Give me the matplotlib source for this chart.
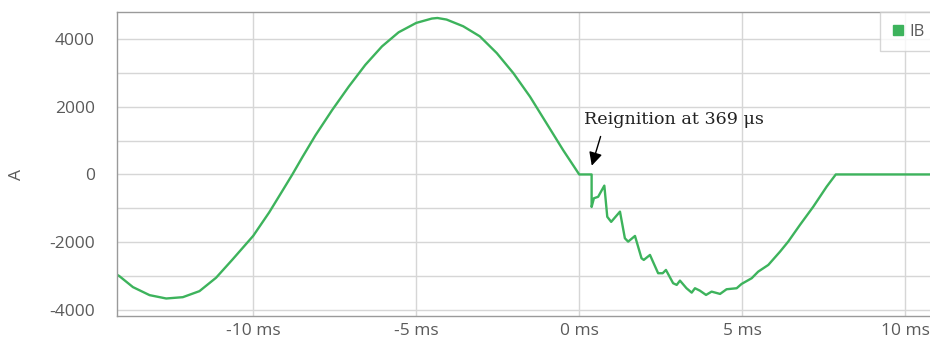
import matplotlib
matplotlib.use("Agg")
import matplotlib.pyplot as plt
from matplotlib.lines import Line2D
from matplotlib.ticker import MultipleLocator, FuncFormatter

# Current IB (A) versus time (ms)
time_ms = [
    -14.17, -14.11, -13.69, -13.18, -12.67, -12.16, -11.65, -11.14, -10.63,
    -10.0, -9.51, -9.10, -8.80, -8.49, -8.09, -7.58, -7.07, -6.56, -6.05,
    -5.54, -5.0, -4.52, -4.35, -4.07, -3.56, -3.05, -2.53, -2.02, -1.51,
    -1.00, -0.49, 0.0, 0.38, 0.38, 0.45, 0.58, 0.77, 0.86, 0.98, 1.25,
    1.40, 1.50, 1.71, 1.91, 1.98, 2.17, 2.42, 2.56, 2.66, 2.88, 2.99, 3.09,
    3.29, 3.45, 3.55, 3.70, 3.89, 4.06, 4.32, 4.52, 4.83, 4.98, 5.29, 5.49,
    5.80, 6.16, 6.41, 6.77, 7.18, 7.59, 7.87, 10.8,
]
current_a = [
    -2967, -3000, -3327, -3564, -3663, -3624, -3446, -3050, -2505,
    -1812, -1119, -475, 0, 515, 1158, 1901, 2594, 3238, 3782,
    4198, 4475, 4604, 4620, 4574, 4376, 4079, 3584, 2990, 2297,
    1505, 713, 0, 0, -960, -703, -660, -330, -1250, -1400, -1098,
    -1884, -1984, -1816, -2474, -2524, -2377, -2917, -2917, -2820, -3212, -3262, -3135,
    -3360, -3490, -3360, -3431, -3558, -3460, -3528, -3390, -3360, -3233, -3065, -2870,
    -2672, -2279, -1984, -1491, -951, -360, 0, 0,
]

series_name = "IB"
note_text = "Reignition at 369 \u03bcs"
note_tip = (0.36, 180)
note_tail = (0.68, 1200)
note_pos = (0.15, 1630)

line_color = "#3db35c"
text_color = "#5a5a5a"
grid_color = "#d6d6d6"

fig = plt.figure(figsize=(9.3, 3.46), dpi=100)
ax = fig.add_axes([117.3 / 930, 1 - 316 / 346, 1 - 117.3 / 930, (316 - 11.7) / 346])

ax.plot(time_ms, current_a, color=line_color, lw=1.7, solid_joinstyle="round")

ax.set_xlim(-14.17, 10.76)
ax.set_ylim(-4180, 4806)

# Axis ticks and grid
ax.xaxis.set_major_locator(MultipleLocator(5))
ax.yaxis.set_major_locator(MultipleLocator(2000))
ax.yaxis.set_minor_locator(MultipleLocator(1000))
ax.xaxis.set_major_formatter(FuncFormatter(lambda v, p: "%d ms" % round(v)))
ax.yaxis.set_major_formatter(FuncFormatter(lambda v, p: "%d" % round(v)))

ax.grid(True, which="both", color=grid_color, lw=1.0)
ax.set_axisbelow(True)
ax.tick_params(axis="both", which="both", length=0, colors=text_color, labelsize=12.5)
ax.tick_params(axis="y", pad=16)
ax.tick_params(axis="x", pad=5)
for lbl in ax.get_xticklabels() + ax.get_yticklabels():
    lbl.set_fontfamily("Open Sans")

for side in ["left", "top", "bottom"]:
    ax.spines[side].set_color("#9a9a9a")
    ax.spines[side].set_linewidth(1.0)
ax.spines["right"].set_visible(False)

fig.text(17 / 930, 1 - 174 / 346, "A", rotation=90, ha="center", va="center",
         color=text_color, fontsize=12.5, family="Open Sans")

# Annotation for the reignition point
ax.text(note_pos[0], note_pos[1], note_text, family="DejaVu Serif", fontsize=12.6,
        color="#222222", ha="left", va="center")
ax.annotate("", xy=note_tip, xytext=note_tail,
            arrowprops=dict(arrowstyle="-|>", color="black", lw=1.0, mutation_scale=20))

# Legend box in the top right corner
handle = Line2D([], [], marker="s", color=line_color, linestyle="none", markersize=7)
leg = fig.legend([handle], [series_name], loc="upper left",
                 bbox_to_anchor=(880 / 930, 1 - 12 / 346), frameon=True, fancybox=False,
                 borderpad=0.7, handlelength=0.8, handletextpad=0.25, borderaxespad=0,
                 prop={"family": "Open Sans", "size": 12})
leg.get_frame().set_edgecolor("#cccccc")
leg.get_frame().set_linewidth(1.0)
for t in leg.get_texts():
    t.set_color(text_color)

plt.savefig("out.png", dpi=100)
plt.close()
